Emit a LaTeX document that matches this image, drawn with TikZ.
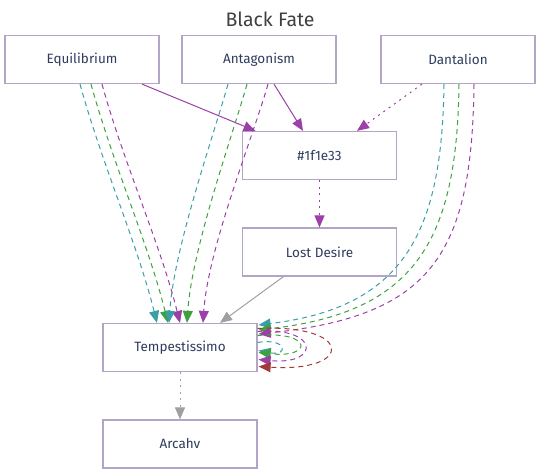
\documentclass[tikz,border=0pt]{standalone}
\usepackage{fontspec}
\setmainfont{Fira Sans}
\usepackage{tikz}
\usetikzlibrary{arrows.meta,calc,positioning}

\definecolor{boxline}{HTML}{B3A5C8}
\definecolor{nodetext}{HTML}{2E3B5E}
\definecolor{tealc}{HTML}{3A9EA5}
\definecolor{greenc}{HTML}{3DA13D}
\definecolor{purplec}{HTML}{9C3FA8}
\definecolor{redc}{HTML}{A33A3A}
\definecolor{grayc}{HTML}{A0A0A0}

\begin{document}
\begin{tikzpicture}
%   [scale=.8,auto=left]
[x=1pt,y=-1pt,>={Triangle[length=12pt,width=10pt]},
  box/.style={draw=boxline,line width=1.2pt,minimum width=154pt,minimum height=48pt,
    inner sep=0pt,text=nodetext,font=\fontsize{13.5}{15}\selectfont},
  edge/.style={->,line width=1pt},
  dashedge/.style={edge,dash pattern=on 5pt off 4pt},
  dotedge/.style={edge,dash pattern=on 2pt off 4.5pt}]

  \useasboundingbox (0,0) rectangle (540,473);

  \node (title) at (270,19) {\fontsize{19.5}{22}\selectfont\color{black!75}Black Fate};

  \node[box] (equilibrium) at 		(82,59.5) 	{Equilibrium};
  \node[box] (antagonism) at 		(259,59.5) 	{Antagonism};
  \node[box] (dantalion) at 		(458,59.5) 	{Dantalion};

  \node[box] (hexcode) at 		(319.5,155.5) 	{\#1f1e33};
  \node[box] (lostdesire) at 		(319.5,252) 	{Lost Desire};

  \node[box] (tempestissimo) at 	(180,347.5) 	{Tempestissimo};
  \node[box] (arcahv) at 		(180,444) 	{Arcahv};

  % into #1f1e33
  \draw[edge,purplec] ($(equilibrium.south)+(60,0)$) -- ($(hexcode.north)+(-64,0)$);
  \draw[edge,purplec] ($(antagonism.south)+(15,0)$) -- ($(hexcode.north)+(-16.5,0)$);
  \draw[dotedge,purplec] ($(dantalion.south)+(-36,0)$) -- ($(hexcode.north)+(37.5,0)$);
  \draw[dotedge,purplec] (hexcode) -- (lostdesire);

  % down to Tempestissimo
  \foreach \col/\from/\to in {tealc/-2/-23,greenc/9/-12,purplec/20/0}
    \draw[dashedge,\col] ($(equilibrium.south)+(\from,0)$) .. controls +(22,80) and +(-20,-80) .. ($(tempestissimo.north)+(\to,0)$);
  \foreach \col/\from/\to in {tealc/-31/-11,greenc/-12/7,purplec/9/23}
    \draw[dashedge,\col] ($(antagonism.south)+(\from,0)$) .. controls +(-14,50) and +(5,-75) .. ($(tempestissimo.north)+(\to,0)$);
  \foreach \col/\from/\to/\bend in {tealc/-14/-22.5/147,greenc/1/-17.5/157,purplec/16/-13.5/172}
    \draw[dashedge,\col] ($(dantalion.south)+(\from,0)$) .. controls +(-2,\bend) and +(\bend,-18) .. ($(tempestissimo.east)+(1,\to)$);
  \draw[edge,grayc] ($(lostdesire.south)+(-36,0)$) -- ($(tempestissimo.north)+(40,0)$);

  % loops
  \foreach \col/\from/\to/\reach in {tealc/-5/3/30,greenc/-12/5/55,purplec/-16/12/62,redc/-19/19/96}
    \draw[dashedge,\col] ($(tempestissimo.east)+(0,\from)$) .. controls +(\reach,-5) and +(\reach,6) .. ($(tempestissimo.east)+(1,\to)$);

  \draw[dotedge,grayc] (tempestissimo) -- (arcahv);

\end{tikzpicture}
\end{document}
